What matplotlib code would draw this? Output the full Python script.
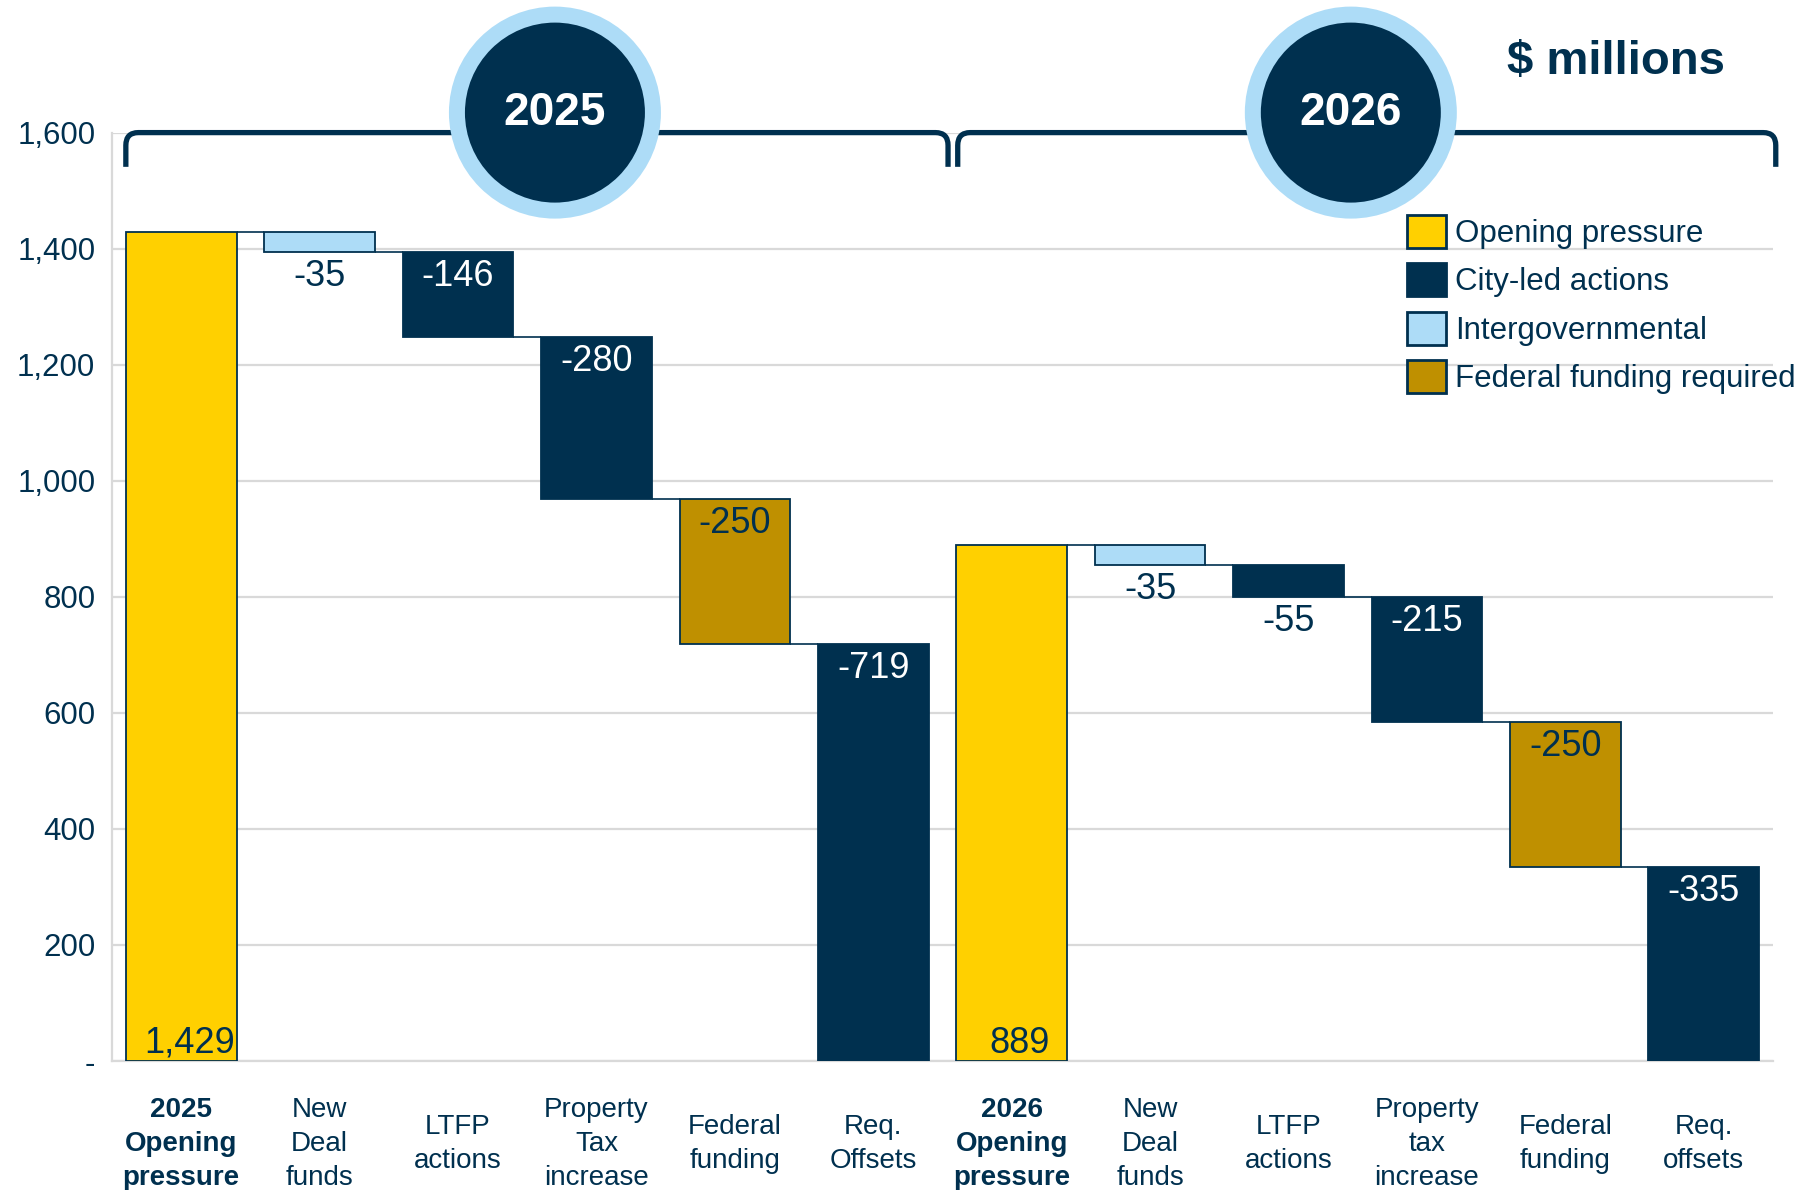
import matplotlib
matplotlib.use("Agg")
import matplotlib.pyplot as plt
from matplotlib.patches import Patch, Ellipse, PathPatch
from matplotlib.path import Path
from matplotlib.ticker import FuncFormatter

plt.rcParams['font.family'] = ['Liberation Sans', 'DejaVu Sans']

# ---- data ----
categories = ["2025\nOpening\npressure", "New\nDeal\nfunds", "LTFP\nactions", "Property\nTax\nincrease",
              "Federal\nfunding", "Req.\nOffsets",
              "2026\nOpening\npressure", "New\nDeal\nfunds", "LTFP\nactions", "Property\ntax\nincrease",
              "Federal\nfunding", "Req.\noffsets"]
values = [1429, -35, -146, -280, -250, -719,
          889, -35, -55, -215, -250, -335]
kinds = ["open", "inter", "city", "city", "fed", "city",
         "open", "inter", "city", "city", "fed", "city"]
groups = ["2025", "2026"]
yticks = [0, 200, 400, 600, 800, 1000, 1200, 1400, 1600]
legend_labels = ["Opening pressure", "City-led actions", "Intergovernmental", "Federal funding required"]
legend_kinds = ["open", "city", "inter", "fed"]

NAVY = "#00304F"
colors = {"open": "#FFD000", "city": "#00304F", "inter": "#ADDCF7", "fed": "#BF9000"}
GRID = "#D9D9D9"

W, H = 1808, 1190
fig = plt.figure(figsize=(W / 100, H / 100), dpi=100)
ax = fig.add_axes([112 / W, 1 - 1061 / H, (1773 - 112) / W, (1061 - 132.6) / H])

# ---- waterfall ----
bottoms, heights = [], []
level = 0
for v, k in zip(values, kinds):
    if k == "open":
        bottoms.append(0)
        heights.append(v)
        level = v
    else:
        bottoms.append(level + v)
        heights.append(-v)
        level = level + v

xs = list(range(len(values)))
bw = 0.8
ax.bar(xs, heights, bottom=bottoms, width=bw, color=[colors[k] for k in kinds],
       edgecolor=NAVY, linewidth=1.3, zorder=3)

# connectors
for i in range(len(values) - 1):
    lv = bottoms[i] + heights[i] if kinds[i] == "open" else bottoms[i]
    ax.plot([i + bw / 2, i + 1 - bw / 2], [lv, lv], color=NAVY, lw=1.2, zorder=2,
            solid_capstyle='butt')

# value labels
for i, (v, k) in enumerate(zip(values, kinds)):
    if k == "open":
        ax.annotate(f"{v:,}", (i + 0.06, 0), xytext=(0, 6), textcoords="offset points",
                    ha="center", va="baseline", fontsize=26, color=NAVY, zorder=5)
    elif abs(v) < 60:
        ax.annotate(f"{v:,}", (i, bottoms[i]), xytext=(0, -5), textcoords="offset points",
                    ha="center", va="top", fontsize=26, color=NAVY, zorder=5)
    else:
        tc = "white" if k == "city" else NAVY
        ax.annotate(f"{v:,}", (i, bottoms[i] + heights[i]), xytext=(0, -5),
                    textcoords="offset points", ha="center", va="top", fontsize=26,
                    color=tc, zorder=5)

# ---- axes styling ----
ax.set_xlim(-0.5, len(values) - 0.5)
ax.set_ylim(0, 1600)
ax.set_yticks(yticks)
ax.yaxis.set_major_formatter(FuncFormatter(lambda y, p: "-" if y == 0 else f"{int(y):,}"))
ax.grid(axis="y", color=GRID, lw=1.6, zorder=0)
ax.set_axisbelow(True)
for s in ["top", "right"]:
    ax.spines[s].set_visible(False)
for s in ["left", "bottom"]:
    ax.spines[s].set_color(GRID)
    ax.spines[s].set_linewidth(1.6)
ax.tick_params(axis="y", length=0, pad=12, labelsize=22.5, labelcolor=NAVY)
ax.set_xticks(xs)
ax.set_xticklabels(categories, fontsize=20, color=NAVY, va="center", linespacing=1.4)
ax.tick_params(axis="x", length=0, pad=59.5)
for i, t in enumerate(ax.get_xticklabels()):
    if kinds[i] == "open":
        t.set_fontweight("bold")

# ---- brackets ----
def bracket(x0, x1, ytop, ybot, dx=0.09, dy=22):
    verts = [(x0, ybot), (x0, ytop - dy), (x0, ytop), (x0 + dx, ytop),
             (x1 - dx, ytop), (x1, ytop), (x1, ytop - dy), (x1, ybot)]
    codes = [Path.MOVETO, Path.LINETO, Path.CURVE3, Path.CURVE3,
             Path.LINETO, Path.CURVE3, Path.CURVE3, Path.LINETO]
    return PathPatch(Path(verts, codes), fill=False, edgecolor=NAVY, lw=3.8,
                     clip_on=False, zorder=6, capstyle='butt')

spans = [(-0.4, 5.54), (5.61, 11.52)]
for x0, x1 in spans:
    ax.add_patch(bracket(x0, x1, 1600, 1541))

# ---- year circles ----
circle_x = [2.7, 8.45]
inv = fig.transFigure.inverted()
for g, cx in zip(groups, circle_x):
    px, py = ax.transData.transform((cx, 1600))
    fx, fy = inv.transform((px, py + 20))
    fig.add_artist(Ellipse((fx, fy), 2 * 106 / W, 2 * 106 / H, facecolor="#ADDCF7",
                           edgecolor="none", zorder=7))
    fig.add_artist(Ellipse((fx, fy), 2 * 90 / W, 2 * 90 / H, facecolor=NAVY,
                           edgecolor="none", zorder=8))
    fig.text(fx, fy, g, ha="center", va="center", fontsize=33, fontweight="bold",
             color="white", zorder=9)

fig.text(1616 / W, 1 - 62 / H, "$ millions", ha="center", va="center", fontsize=34,
         fontweight="bold", color=NAVY)

# ---- legend ----
handles = [Patch(facecolor=colors[k], edgecolor=NAVY, lw=2) for k in legend_kinds]
leg = fig.legend(handles, legend_labels, loc="upper left",
                 bbox_to_anchor=(1407 / W, 1 - 215 / H), bbox_transform=fig.transFigure,
                 frameon=False, fontsize=22.5, handlelength=1.25, handleheight=1.25,
                 handletextpad=0.3, labelspacing=0.46, borderpad=0, borderaxespad=0)
for t in leg.get_texts():
    t.set_color(NAVY)

fig.savefig("out.png", dpi=100)
